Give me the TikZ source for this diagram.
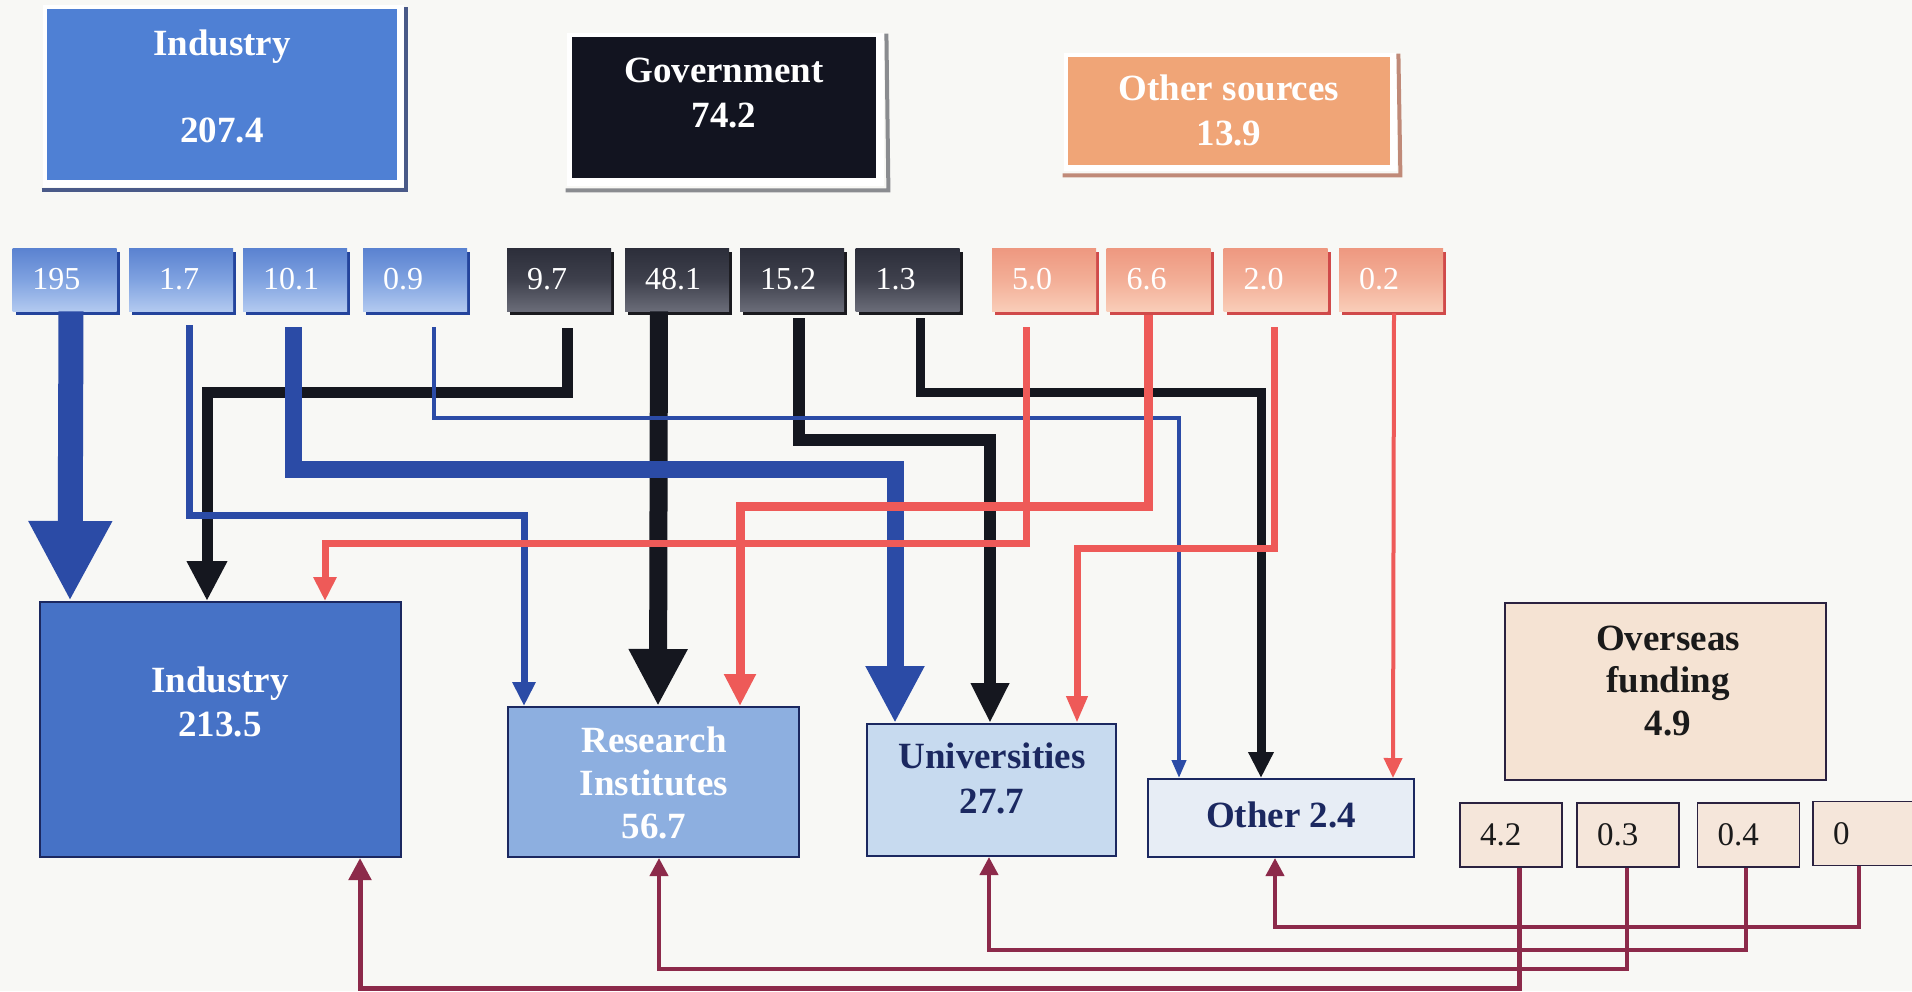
\documentclass[tikz,border=0pt]{standalone}
\usepackage{fontspec}
\setmainfont{Liberation Serif}
\usetikzlibrary{arrows.meta,calc,shadows,backgrounds}

\definecolor{paper}{HTML}{F8F8F5}
\definecolor{indblue}{HTML}{4F80D4}
\definecolor{indblueB}{HTML}{4672C6}
\definecolor{resblue}{HTML}{8DAFE0}
\definecolor{unibl}{HTML}{C7DAEF}
\definecolor{othbl}{HTML}{E7EDF5}
\definecolor{govblack}{HTML}{121420}
\definecolor{salmon}{HTML}{F0A577}
\definecolor{ovsfill}{HTML}{F5E3D3}
\definecolor{ovssmall}{HTML}{F5E6DA}
\definecolor{ovsedge}{HTML}{2B2240}
\definecolor{inkblack}{HTML}{1A1A1A}
\definecolor{navy}{HTML}{1B2860}
\definecolor{flowblue}{HTML}{2B4BA6}
\definecolor{flowblack}{HTML}{15171F}
\definecolor{flowred}{HTML}{EE5A58}
\definecolor{flowmaroon}{HTML}{8C2A4A}
% gradients of the amount boxes
\definecolor{bluetop}{HTML}{5A82D0}
\definecolor{bluemid}{HTML}{7FA2E0}
\definecolor{bluebot}{HTML}{B2C9F0}
\definecolor{blueshade}{HTML}{24449C}
\definecolor{blacktop}{HTML}{2C2E3A}
\definecolor{blackmid}{HTML}{3E404C}
\definecolor{blackbot}{HTML}{6A6C78}
\definecolor{blackshade}{HTML}{1A1A1E}
\definecolor{salmtop}{HTML}{EE9880}
\definecolor{salmmid}{HTML}{F3AE96}
\definecolor{salmbot}{HTML}{F9CDB8}
\definecolor{salmshade}{HTML}{D04A4A}
% raised-frame edges
\definecolor{indedge}{HTML}{4A5A88}
\definecolor{govedge}{HTML}{8A8C90}
\definecolor{othedge}{HTML}{C08A78}

\tikzset{
  ttl/.style={anchor=base, inner sep=0pt, font=\fontsize{18.5}{22}\selectfont\bfseries},
  bigbox/.style={rectangle, draw=navy, line width=1pt, inner sep=0pt},
  amount/.style={rectangle, inner xsep=10pt, inner ysep=0pt, text width=32pt, align=left,
    minimum height=31.5pt, font=\fontsize{16}{19}\selectfont, text=white},
  bluesrc/.style={amount, top color=bluetop, bottom color=bluebot, middle color=bluemid,
    general shadow={fill=blueshade, shadow xshift=1.5pt, shadow yshift=-2pt}},
  blacksrc/.style={amount, top color=blacktop, bottom color=blackbot, middle color=blackmid,
    general shadow={fill=blackshade, shadow xshift=1.5pt, shadow yshift=-2pt}},
  salmonsrc/.style={amount, top color=salmtop, bottom color=salmbot, middle color=salmmid,
    general shadow={fill=salmshade, shadow xshift=1.5pt, shadow yshift=-2pt}},
  ovsamount/.style={rectangle, draw=ovsedge, line width=0.8pt, fill=ovssmall,
    minimum height=32pt, text width=31pt, inner xsep=10pt, inner ysep=0pt, align=left,
    font=\fontsize{16.5}{19}\selectfont, text=inkblack},
  flow/.style={line join=miter, line cap=butt},
  bflow/.style={flow, draw=flowblue},
  kflow/.style={flow, draw=flowblack},
  rflow/.style={flow, draw=flowred},
  mflow/.style={flow, draw=flowmaroon, line width=2pt},
}
\begin{document}
\begin{tikzpicture}[x=0.5pt, y=-0.5pt]
\useasboundingbox (0,0) rectangle (1912,991);

% ---- funding sources (top row)
\node[rectangle, fill=indblue, inner sep=0pt, minimum width=175pt, minimum height=85.5pt] (indTop) at (222,94.5) {};
\node[rectangle, fill=govblack, inner sep=0pt, minimum width=152pt, minimum height=70.5pt] (govTop) at (724,107.5) {};
\node[rectangle, fill=salmon, inner sep=0pt, minimum width=161pt, minimum height=54pt] (othTop) at (1229,111) {};

\node[ttl, text=white] (indTopA) at (222,55) {Industry};
\node[ttl, text=white] (indTopB) at (222,142) {207.4};
\node[ttl, text=white] (govTopA) at (724,82) {Government};
\node[ttl, text=white] (govTopB) at (724,127) {74.2};
\node[ttl, text=white] (othTopA) at (1229,100) {Other sources};
\node[ttl, text=white] (othTopB) at (1229,145) {13.9};

% ---- amounts per source
\node[bluesrc] (s195) at (64.5,279.5) {195};
\node[bluesrc] (s17)  at (181,279.5) {\hspace*{5pt}1.7};
\node[bluesrc] (s101) at (295,279.5) {10.1};
\node[bluesrc] (s09)  at (415,279.5) {0.9};
\node[blacksrc] (s97)  at (559,279.5) {9.7};
\node[blacksrc] (s481) at (677,279.5) {48.1};
\node[blacksrc] (s152) at (792,279.5) {15.2};
\node[blacksrc] (s13)  at (907.5,279.5) {1.3};
\node[salmonsrc] (s50) at (1044,279.5) {5.0};
\node[salmonsrc] (s66) at (1158.5,279.5) {6.6};
\node[salmonsrc] (s20) at (1275.5,279.5) {2.0};
\node[salmonsrc] (s02) at (1391,279.5) {0.2};

% ---- performing sectors
\node[bigbox, fill=indblueB, minimum width=180.5pt, minimum height=127.5pt] (indB) at (220.5,729.5) {};
\node[bigbox, fill=resblue, minimum width=145.5pt, minimum height=75pt] (resB) at (653.5,782) {};
\node[bigbox, fill=unibl, minimum width=124.5pt, minimum height=66pt] (uniB) at (991.5,790) {};
\node[bigbox, fill=othbl, minimum width=133pt, minimum height=39pt] (othB) at (1281,818) {};
\node[bigbox, draw=ovsedge, fill=ovsfill, minimum width=160.5pt, minimum height=88.5pt] (ovsB) at (1665.5,691.5) {};

\node[ttl, text=white] (indBA) at (220,692) {Industry};
\node[ttl, text=white] (indBB) at (220,736) {213.5};
\node[ttl, text=white] (resBA) at (654,752) {Research};
\node[ttl, text=white] (resBB) at (654,795) {Institutes};
\node[ttl, text=white] (resBC) at (654,838) {56.7};
\node[ttl, text=navy] (uniBA) at (992,768) {Universities};
\node[ttl, text=navy] (uniBB) at (992,813) {27.7};
\node[ttl, text=navy] (othBA) at (1281,827) {Other 2.4};
\node[ttl, text=inkblack] (ovsBA) at (1668,650) {Overseas};
\node[ttl, text=inkblack] (ovsBB) at (1668,692) {funding};
\node[ttl, text=inkblack] (ovsBC) at (1668,735) {4.9};

% ---- overseas amounts
\node[ovsamount] (o42) at (1511,835) {4.2};
\node[ovsamount] (o03) at (1628,835) {0.3};
\node[ovsamount] (o04) at (1748.5,835) {0.4};
\node[ovsamount] (o0)  at (1864,833.5) {0};

% ---- government flows
\draw[kflow, line width=5.5pt, -{Triangle[width=19pt,length=20pt]}]
  ($(s97.south)+(8,17)$) -- ++(0,64) -| ($(indB.north west)+(168,0)$);
\draw[kflow, line width=9pt, -{Triangle[width=27.5pt,length=28.5pt]}]
  ($(s481.south)+(-18,0)$) -- ($(resB.north west)+(151,0)$);
\draw[kflow, line width=6pt, -{Triangle[width=18pt,length=20pt]}]
  ($(s152.south)+(7,7)$) -- ++(0,122) -| ($(uniB.north west)+(124,0)$);
\draw[kflow, line width=4.5pt, -{Triangle[width=12pt,length=13pt]}]
  ($(s13.south)+(12.5,7)$) -- ++(0,74) -| ($(othB.north west)+(114,0)$);

% ---- industry flows
\draw[bflow, line width=12.5pt, -{Triangle[width=39pt,length=40pt]}]
  ($(s195.south)+(6.5,0)$) -- ($(indB.north west)+(31,0)$);
\draw[bflow, line width=3.5pt, -{Triangle[width=11pt,length=12pt]}]
  ($(s17.south)+(8,14)$) -- ++(0,190) -| ($(resB.north west)+(17,0)$);
\draw[bflow, line width=8.5pt, -{Triangle[width=27.5pt,length=28.5pt]}]
  ($(s101.south)+(-1.5,16)$) -- ++(0,142) -| ($(uniB.north west)+(29,0)$);
\draw[bflow, line width=2pt, -{Triangle[width=7pt,length=9pt]}]
  ($(s09.south)+(18.5,16)$) -- ++(0,91) -| ($(othB.north west)+(32,0)$);

% ---- other-source flows
\draw[rflow, line width=3.5pt, -{Triangle[width=11pt,length=12pt]}]
  ($(s50.south)+(-18,16)$) -- ++(0,216) -| ($(indB.north west)+(286,0)$);
\draw[rflow, line width=4.5pt, -{Triangle[width=15pt,length=16pt]}]
  ($(s66.south)+(-10.5,4)$) -- ++(0,191) -| ($(resB.north west)+(233,0)$);
\draw[rflow, line width=3.5pt, -{Triangle[width=10pt,length=13.5pt]}]
  ($(s20.south)+(-1.5,16)$) -- ++(0,221) -| ($(uniB.north west)+(211,0)$);
\draw[rflow, line width=2pt, -{Triangle[width=9pt,length=10pt]}]
  ($(s02.south)+(3,2)$) -- ($(othB.north west)+(246,0)$);

% ---- overseas flows
\draw[mflow, line width=2.5pt, -{Triangle[width=11pt,length=11pt]}]
  ($(o42.south)+(8,0)$) -- ++(0,121) -| ($(indB.south west)+(321,0)$);
\draw[mflow, -{Triangle[width=9pt,length=9pt]}]
  ($(o03.south)+(-1,0)$) -- ++(0,101) -| ($(resB.south west)+(152,0)$);
\draw[mflow, -{Triangle[width=9pt,length=9pt]}]
  ($(o04.south)+(-2.5,0)$) -- ++(0,82) -| ($(uniB.south west)+(123,0)$);
\draw[mflow, -{Triangle[width=9pt,length=9pt]}]
  ($(o0.south)+(-5,0)$) -- ++(0,61) -| ($(othB.south west)+(128,0)$);

% ---- page and raised frames behind the source boxes
\begin{scope}[on background layer]
  \fill[paper] (0,0) rectangle (1912,991);
  \fill[white] ($(indTop.north west)+(-4,-4)$) rectangle ($(indTop.south east)+(7,7)$);
  \draw[line width=2pt, color=indedge] ($(indTop.south west)+(-5,10)$) -- ($(indTop.south east)+(9,10)$) -- ($(indTop.north east)+(9,-2)$);
  \fill[white] ($(govTop.north west)+(-5,-4)$) rectangle ($(govTop.south east)+(8,8)$);
  \draw[line width=2pt, color=govedge] ($(govTop.south west)+(-6,12)$) -- ($(govTop.south east)+(12,12)$) -- ($(govTop.north east)+(10,-3)$);
  \fill[white] ($(othTop.north west)+(-4,-4)$) rectangle ($(othTop.south east)+(7,6)$);
  \draw[line width=2pt, color=othedge] ($(othTop.south west)+(-5,10)$) -- ($(othTop.south east)+(10,10)$) -- ($(othTop.north east)+(8,-3)$);
\end{scope}
\end{tikzpicture}
\end{document}
